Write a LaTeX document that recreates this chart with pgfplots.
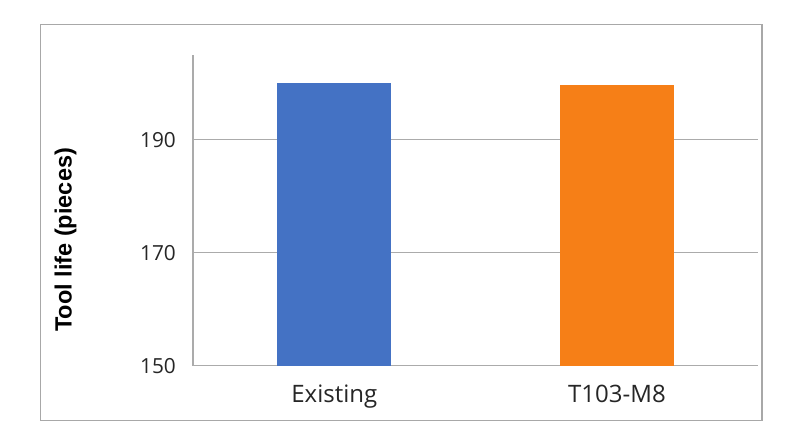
\documentclass[border=0pt]{standalone}
\usepackage{pgfplots}
\pgfplotsset{compat=1.18}
\usepackage{fontspec}
\setmainfont{Open Sans}
\newfontfamily\labelfont{Liberation Sans}
\definecolor{barblue}{HTML}{4472C4}
\definecolor{barorange}{HTML}{F67F17}
\definecolor{gridgray}{HTML}{ABABAB}
\definecolor{framegray}{HTML}{A8A8A8}
\begin{document}
\begin{tikzpicture}[x=1pt,y=1pt]
\path[use as bounding box, fill=white] (0,0) rectangle (791,441);
\draw[framegray, line width=1.3pt] (40.5,20.3) rectangle (762,416.3);
\begin{axis}[
  at={(193pt,75.3pt)}, anchor=south west,
  scale only axis, width=565.3pt, height=310.7pt,
  xmin=-0.5, xmax=1.5, ymin=150, ymax=205,
  axis x line=bottom, axis y line=left,
  axis line style={gridgray, line width=1.3pt, -},
  xtick={0,1}, xticklabels={Existing,T103-M8},
  ytick={150,170,190}, yticklabels={150,170,190},
  major tick length=0pt,
  ymajorgrids, grid style={gridgray, line width=1.3pt},
  yticklabel style={font=\fontsize{20.8}{24}\selectfont, anchor=east, inner sep=0pt, xshift=-17pt, text=black!85},
  xticklabel style={font=\fontsize{24}{28}\selectfont, anchor=north, inner sep=0pt, yshift=-19pt, text=black!85},
  ylabel={Tool life (pieces)},
  ylabel style={font=\labelfont\bfseries\fontsize{23.5}{28}\selectfont, at={(axis description cs:-0.2255,0.405)}, anchor=center, rotate=0},
  bar width=0.404, ybar, bar shift=0pt,
  clip=false,
]
\addplot[fill=barblue, draw=none] coordinates {(0,200)};
\addplot[fill=barorange, draw=none] coordinates {(1,199.7)};
\end{axis}
\end{tikzpicture}
\end{document}
